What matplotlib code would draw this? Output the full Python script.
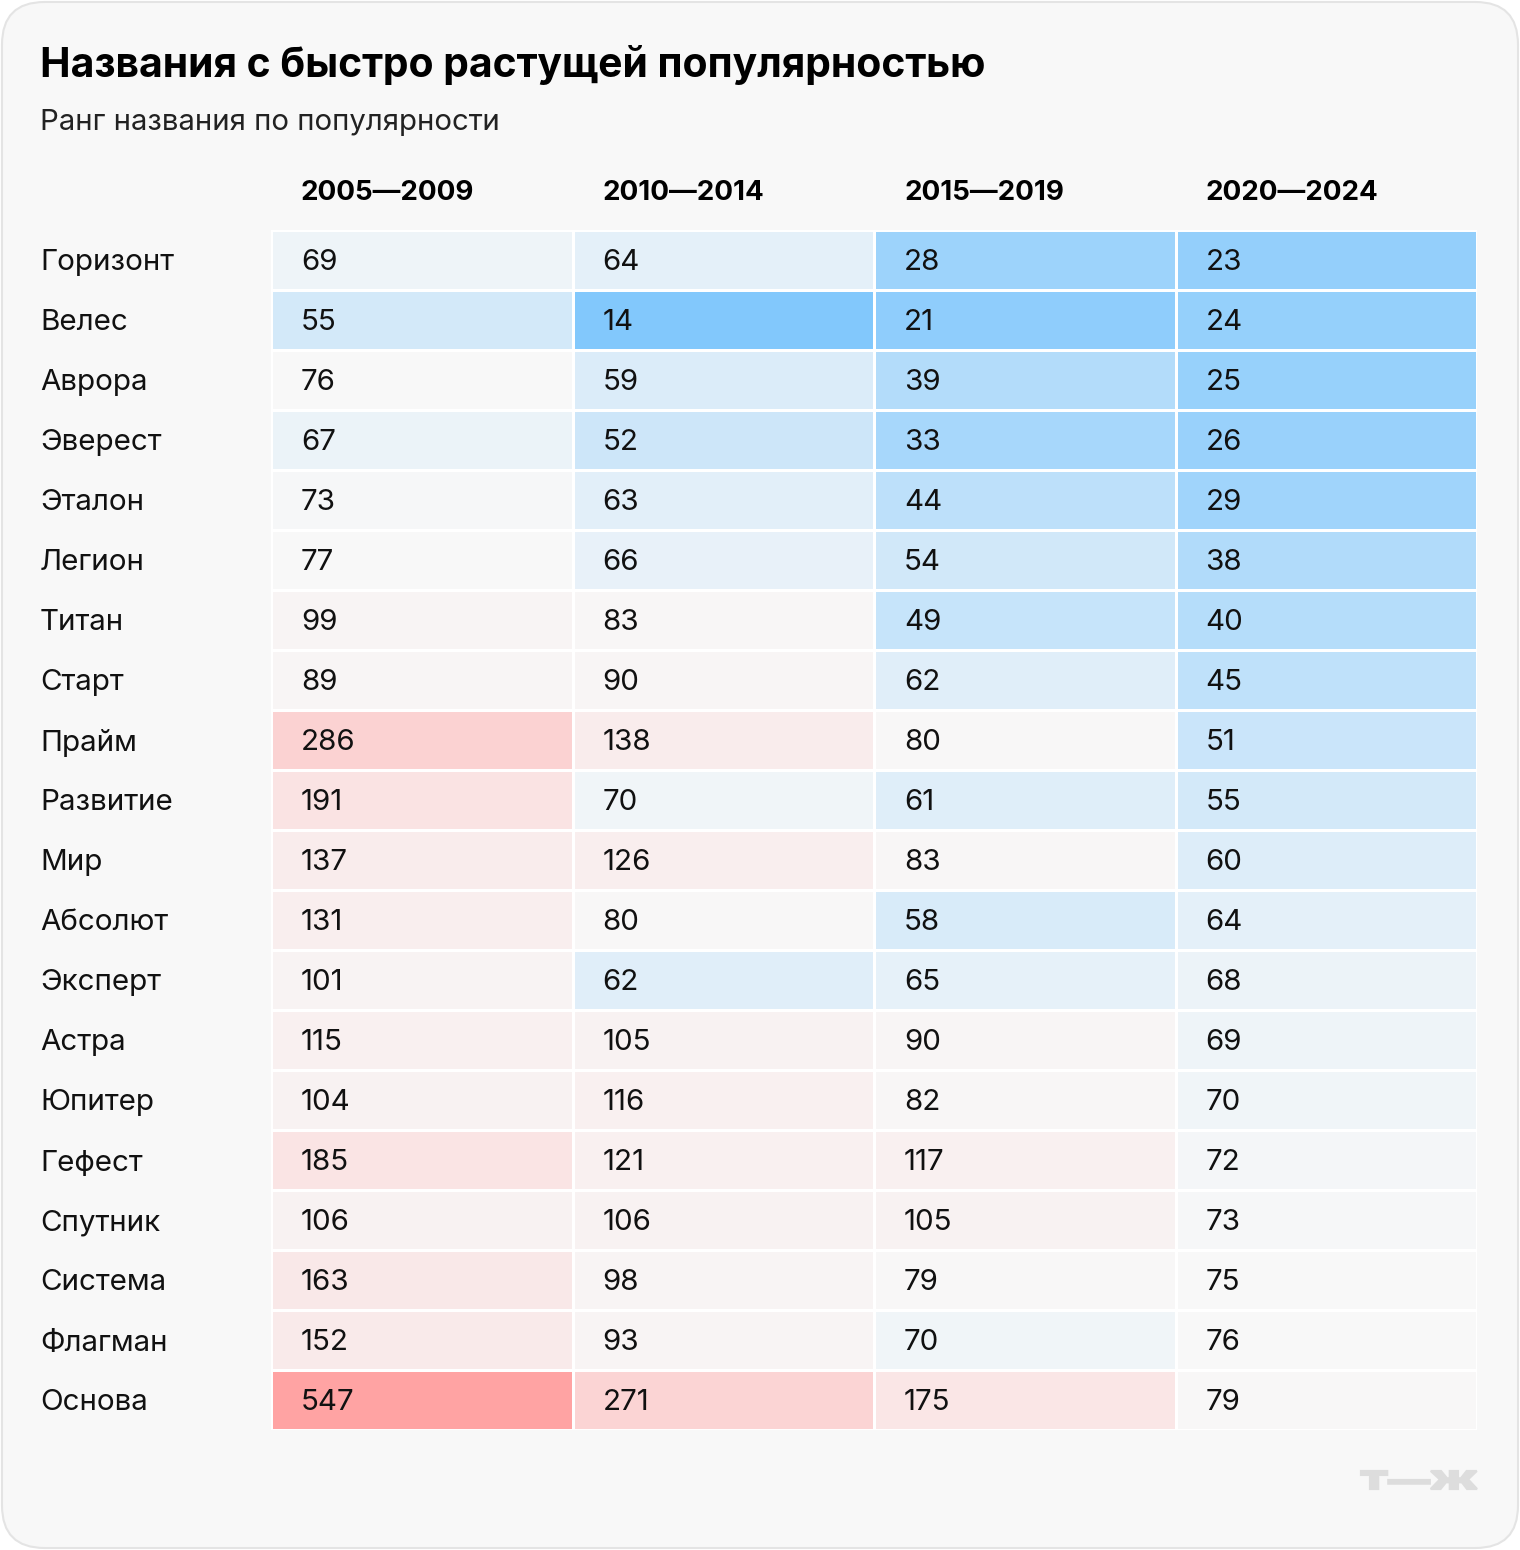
import matplotlib
matplotlib.use("Agg")
import matplotlib.pyplot as plt
import numpy as np
from matplotlib.colors import LinearSegmentedColormap, TwoSlopeNorm
from matplotlib.patches import FancyBboxPatch, PathPatch
from matplotlib.textpath import TextPath
from matplotlib.font_manager import FontProperties
from matplotlib.transforms import Affine2D

plt.rcParams["font.family"] = ["Inter", "DejaVu Sans"]

title = "Названия с быстро растущей популярностью"
subtitle = "Ранг названия по популярности"
periods = ["2005—2009", "2010—2014", "2015—2019", "2020—2024"]
names = ["Горизонт", "Велес", "Аврора", "Эверест", "Эталон", "Легион", "Титан",
         "Старт", "Прайм", "Развитие", "Мир", "Абсолют", "Эксперт", "Астра",
         "Юпитер", "Гефест", "Спутник", "Система", "Флагман", "Основа"]
rank_2005 = [69, 55, 76, 67, 73, 77, 99, 89, 286, 191, 137, 131, 101, 115, 104, 185, 106, 163, 152, 547]
rank_2010 = [64, 14, 59, 52, 63, 66, 83, 90, 138, 70, 126, 80, 62, 105, 116, 121, 106, 98, 93, 271]
rank_2015 = [28, 21, 39, 33, 44, 54, 49, 62, 80, 61, 83, 58, 65, 90, 82, 117, 105, 79, 70, 175]
rank_2020 = [23, 24, 25, 26, 29, 38, 40, 45, 51, 55, 60, 64, 68, 69, 70, 72, 73, 75, 76, 79]

W, H = 1520, 1550
fig = plt.figure(figsize=(W / 100, H / 100), dpi=100)
fig.patch.set_facecolor("white")

# card background
card = FancyBboxPatch((2 / W, 2 / H), (W - 4) / W, (H - 4) / H,
                      boxstyle="round,pad=0,rounding_size=0.028",
                      transform=fig.transFigure, facecolor="#F8F8F8",
                      edgecolor="#E4E4E4", linewidth=1.5, mutation_aspect=W / H,
                      zorder=-10)
fig.patches.append(card)

fig.text(40 / W, 1 - 65 / H, title, fontsize=29.4, fontweight="bold", va="center", ha="left")
fig.text(40 / W, 1 - 122 / H, subtitle, fontsize=21.1, va="center", ha="left", color="#222222")

# table axes
x0, x1 = 271, 1477
y0, y1 = 230, 1430
ax = fig.add_axes([x0 / W, 1 - y1 / H, (x1 - x0) / W, (y1 - y0) / H])
ax.set_facecolor("none")

data = np.array([rank_2005, rank_2010, rank_2015, rank_2020]).T
cmap = LinearSegmentedColormap.from_list("rank", ["#82C8FC", "#F8F8F8", "#FFA3A3"])
norm = TwoSlopeNorm(vmin=14, vcenter=74, vmax=547)
ax.pcolormesh(np.arange(data.shape[1] + 1), np.arange(data.shape[0] + 1), data,
              cmap=cmap, norm=norm, edgecolors="white", linewidth=2)
ax.set_xlim(0, data.shape[1])
ax.set_ylim(data.shape[0], 0)
ax.axis("off")

col_w = (x1 - x0) / data.shape[1]
for j in range(data.shape[1]):
    ax.text(j + 30 / col_w, -0.62, periods[j], fontsize=20, fontweight="bold",
            va="center", ha="left", clip_on=False)
    for i in range(data.shape[0]):
        ax.text(j + 30 / col_w, i + 0.55, str(data[i, j]), fontsize=21.3,
                va="center", ha="left", color="#111111")

for i, name in enumerate(names):
    ax.text(-231 / col_w, i + 0.55, name, fontsize=21.3, va="center", ha="left",
            color="#111111", clip_on=False)

# logo, stretched wide
logo = TextPath((0, 0), "Т—Ж", size=20, prop=FontProperties(family="Inter", weight="black"))
ext = logo.get_extents()
lx0, lx1, ly_top, ly_bot = 1361, 1477, 1471, 1489
sx = (lx1 - lx0) / ext.width / W
sy = (ly_bot - ly_top) / ext.height / H
tr = (Affine2D().translate(-ext.x0, -ext.y0).scale(sx, sy)
      .translate(lx0 / W, 1 - ly_bot / H) + fig.transFigure)
fig.patches.append(PathPatch(logo, transform=tr, facecolor="#DDDDDD",
                             edgecolor="#DDDDDD", linewidth=1.6))

fig.savefig("out.png", dpi=100, facecolor=fig.get_facecolor())
